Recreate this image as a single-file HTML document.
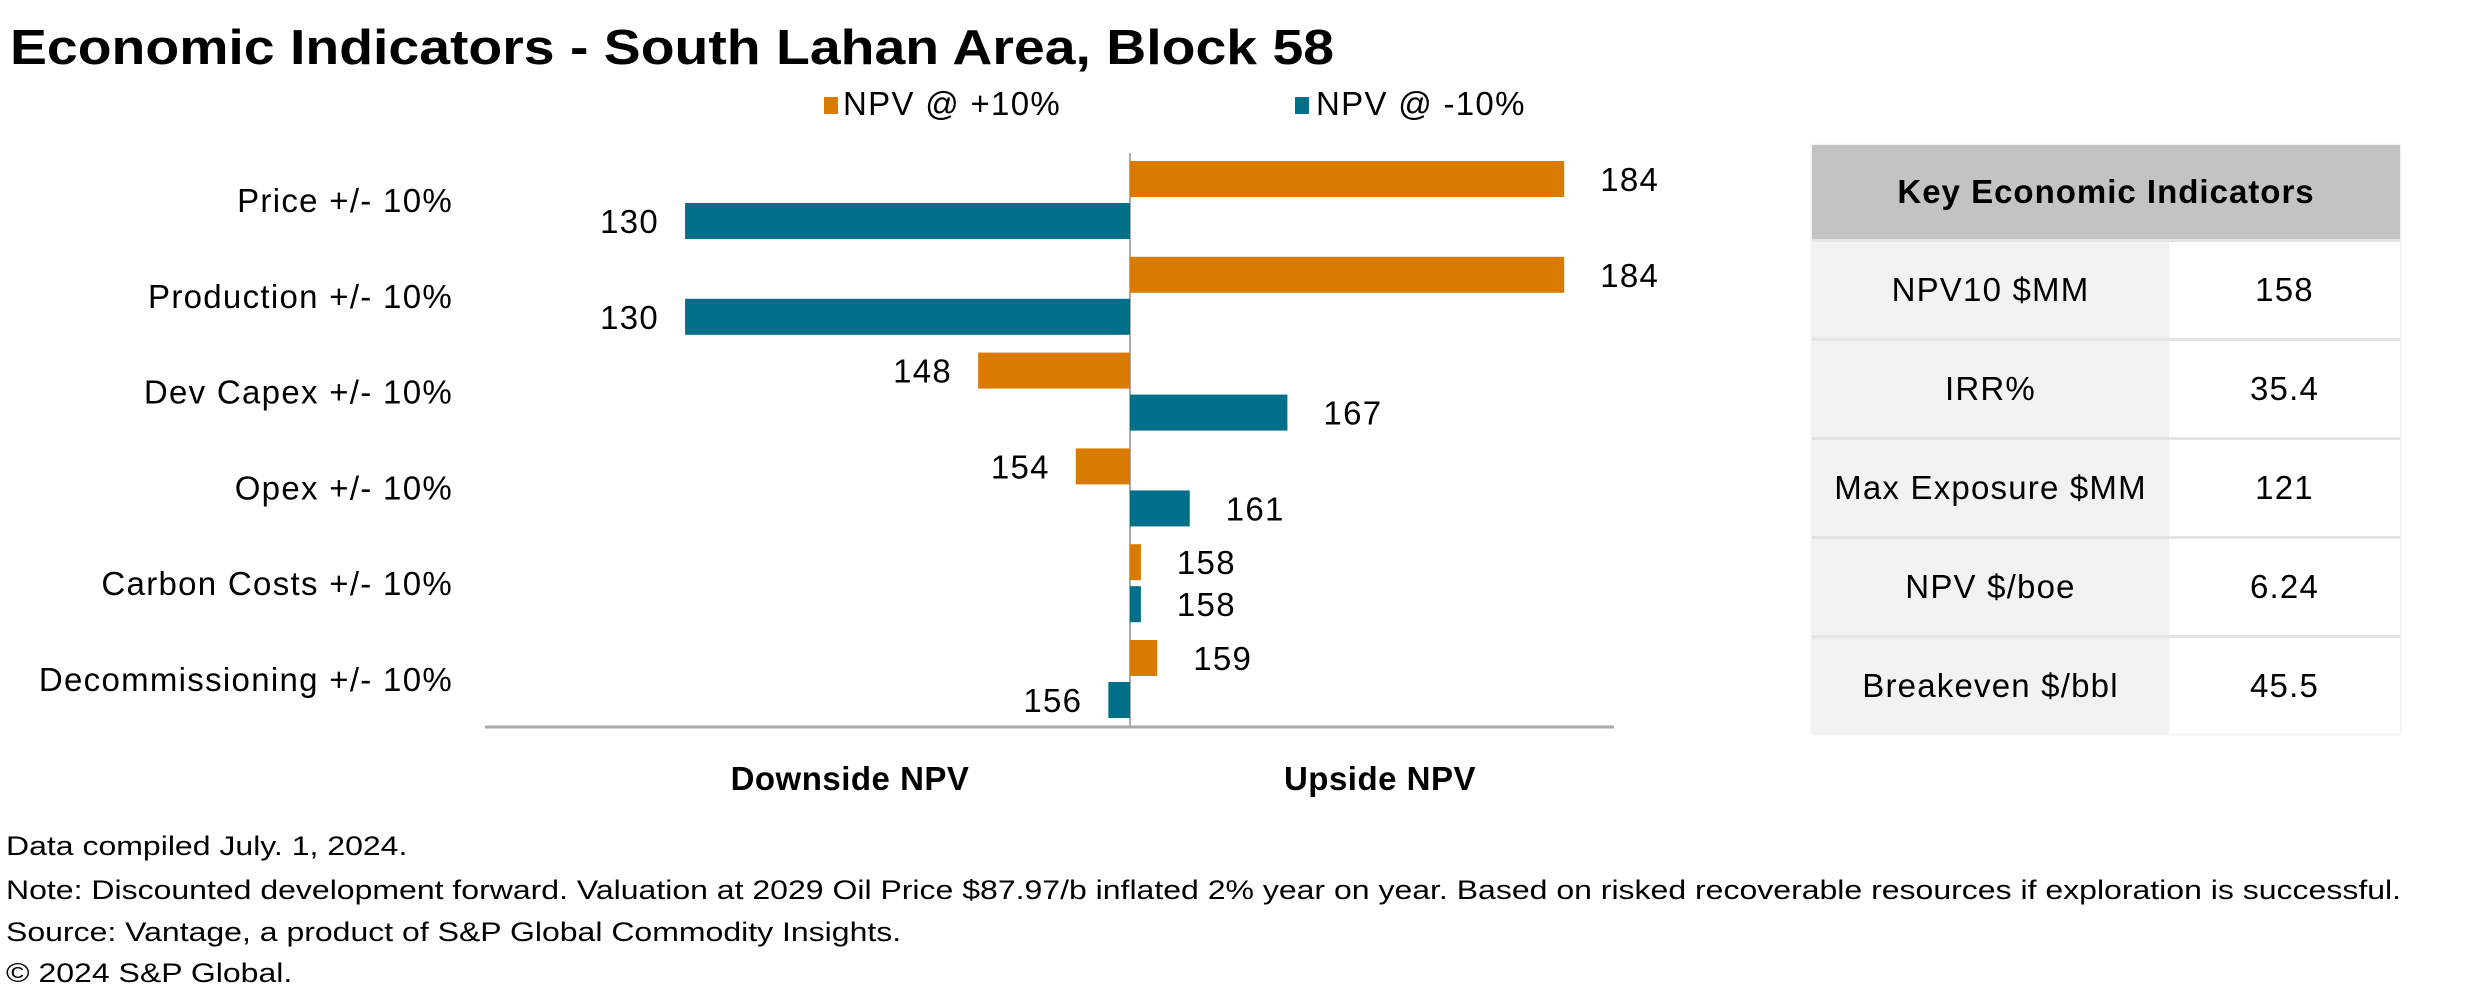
<!DOCTYPE html>
<html><head><meta charset="utf-8">
<style>
body{margin:0;width:2475px;height:990px;background:#fff;font-family:"Liberation Sans",Arial,sans-serif;position:relative;overflow:hidden;color:#000}
.abs{position:absolute}
table{border-collapse:collapse}
td{font-size:33px;letter-spacing:1.2px;text-align:center;height:94px;border-top:3px solid #e4e4e4}
.fn div{transform:scaleX(1.185);transform-origin:0 0;white-space:nowrap}
</style></head><body>
<div class="abs" style="left:10px;top:20px;font-size:49px;font-weight:bold;transform:scaleX(1.13);transform-origin:0 0;white-space:nowrap">Economic Indicators - South Lahan Area, Block 58</div>
<svg class="abs" style="left:0;top:0" width="1800" height="820" id="chart"></svg>
<div class="abs" style="left:1812px;top:145px;width:588px;box-shadow:0 0 3px #ddd">
<table style="width:588px">
<tr><th colspan="2" style="background:#c3c3c3;height:92px;font-size:33px;letter-spacing:1px">Key Economic Indicators</th></tr>
<tr><td style="background:#f2f2f2;width:355px">NPV10 $MM</td><td>158</td></tr>
<tr><td style="background:#f2f2f2">IRR%</td><td>35.4</td></tr>
<tr><td style="background:#f2f2f2">Max Exposure $MM</td><td>121</td></tr>
<tr><td style="background:#f2f2f2">NPV $/boe</td><td>6.24</td></tr>
<tr><td style="background:#f2f2f2">Breakeven $/bbl</td><td>45.5</td></tr>
</table></div>
<div class="abs fn" style="left:6px;top:824px;font-size:27px;line-height:44px">
<div>Data compiled July. 1, 2024.</div>
<div>Note: Discounted development forward. Valuation at 2029 Oil Price $87.97/b inflated 2% year on year. Based on risked recoverable resources if exploration is successful.</div>
<div style="margin-top:-2px">Source: Vantage, a product of S&amp;P Global Commodity Insights.</div>
<div style="margin-top:-3px">© 2024 S&amp;P Global.</div>
</div>
<script>
const categories=["Price +/- 10%","Production +/- 10%","Dev Capex +/- 10%","Opex +/- 10%","Carbon Costs +/- 10%","Decommissioning +/- 10%"];
const npvPlus10=[184,184,148,154,158,159];
const npvMinus10=[130,130,167,161,158,156];
const baseNPV=157.33;
const NS="http://www.w3.org/2000/svg";
const svg=document.getElementById('chart');
const cx=1130, pxPerUnit=16.28;
function xs(v){return cx+(v-baseNPV)*pxPerUnit;}
function yc(i){return 200+95.8*i;}
function mk(tag,attrs,parent){const e=document.createElementNS(NS,tag);for(const k in attrs)e.setAttribute(k,attrs[k]);(parent||svg).appendChild(e);return e;}
const ORANGE="#d97b00", TEAL="#00708a";
const TS={'font-size':33,'letter-spacing':1.3};
function txt(x,y,s,anchor,extra){const o=Object.assign({x:x,y:y,'text-anchor':anchor||'start'},TS,extra||{});const e=mk('text',o);e.textContent=s;return e;}
let g=mk('g',{});


let r=mk('rect',{x:824,y:97,width:14,height:17,fill:ORANGE},g);


let t=txt(843,115,"NPV @ +10%");g.appendChild(t);


r=mk('rect',{x:1295,y:97,width:14,height:17,fill:TEAL},g);


t=txt(1316,115,"NPV @ -10%");g.appendChild(t);


let l=mk('line',{x1:cx,y1:153,x2:cx,y2:727,stroke:'#aaa','stroke-width':2});


l=mk('line',{x1:485,y1:727,x2:1614,y2:727,stroke:'#aaa','stroke-width':3});


t=txt(850,790,"Downside NPV",'middle',{'font-weight':'bold','letter-spacing':0.5});


t=txt(1380,790,"Upside NPV",'middle',{'font-weight':'bold','letter-spacing':0.5});


function bar(v,y0,color,name){
  const x1=Math.min(xs(v),cx), x2=Math.max(xs(v),cx);
  const b=mk('rect',{x:x1,y:y0,width:Math.max(x2-x1,0),height:36,fill:color});
  
  
  const right=v>=baseNPV;
  const lb=txt(right?x2+36:x1-26,y0+30,String(v),right?'start':'end');
  
  
}
categories.forEach((c,i)=>{
  const y=yc(i);
  const ct=txt(453,y+12,c,'end');
  
  
  bar(npvPlus10[i],y-39,ORANGE,'bar-plus-'+i);
  bar(npvMinus10[i],y+3,TEAL,'bar-minus-'+i);
});
</script>
</body></html>
